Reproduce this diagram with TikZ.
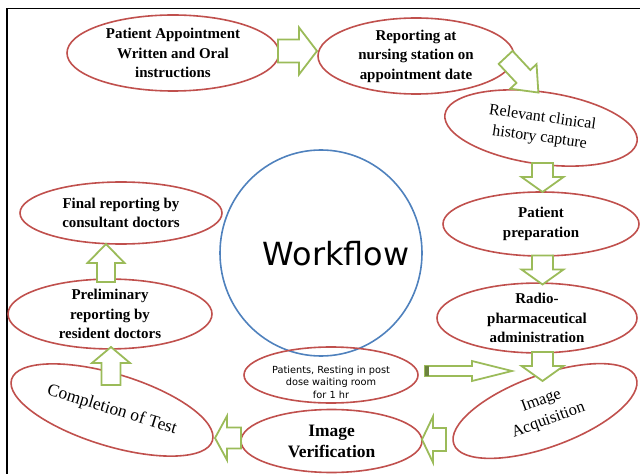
\documentclass[tikz,border=0pt]{standalone}
\usepackage{fontspec}
\setmainfont{Liberation Serif}[BoldFont={Liberation Serif Bold}]
\newfontfamily\handfont{DejaVu Sans}
\usetikzlibrary{shapes.geometric}
\definecolor{ered}{HTML}{C0504D}
\definecolor{cblue}{HTML}{4F81BD}
\definecolor{agreen}{HTML}{9BBB59}
\begin{document}
\begin{tikzpicture}[x=1bp,y=-1bp,
  stage/.style={ellipse, draw=ered, line width=1.6bp, inner sep=0pt, align=center,
    font=\bfseries\fontsize{15}{19.5}\selectfont},
  stagereg/.style={stage, font=\fontsize{16}{20}\selectfont},
  garrowline/.style={draw=agreen, line width=1.8bp, fill=white, line join=miter},
  pics/barrow/.style n args={4}{code={
    \path[garrowline] ({-#1/2},{-#2/2}) -- ({#1/2-#4},{-#2/2}) -- ({#1/2-#4},{-#3/2})
      -- ({#1/2},0) -- ({#1/2-#4},{#3/2}) -- ({#1/2-#4},{#2/2}) -- ({-#1/2},{#2/2}) -- cycle;
  }},
  frameline/.style={line width=1.3bp, draw=black}
]
\useasboundingbox (0,0) rectangle (640,474);
\draw[frameline] (7,474) -- (7,8.5) -- (640,8.5);

% stages
\node[stage, minimum width=212bp, minimum height=76bp] (e1) at (173,53)
  {Patient Appointment\\Written and Oral\\instructions};
\node[stage, minimum width=196bp, minimum height=76bp] (e2) at (416,56)
  {Reporting at\\nursing station on\\appointment date};
\node[stagereg, minimum width=194bp, minimum height=72bp, rotate=-8] (e3) at (541,128)
  {Relevant clinical\\history capture};
\node[stage, minimum width=196bp, minimum height=64bp] (e4) at (541,224)
  {Patient\\preparation};
\node[stage, minimum width=200bp, minimum height=68bp] (e5) at (537,318)
  {Radio-\\pharmaceutical\\administration};
\node[stagereg, font=\fontsize{16.5}{21}\selectfont, minimum width=194bp, minimum height=72bp, rotate=20] (e6) at (545,411)
  {Image\\Acquisition};
\node[stage, font=\bfseries\fontsize{17.5}{21}\selectfont, minimum width=181bp, minimum height=63bp] (e7) at (331.5,441)
  {Image\\Verification};
\node[stagereg, font=\fontsize{17.5}{21}\selectfont, minimum width=210bp, minimum height=72bp, rotate=-17] (e8) at (112,410)
  {Completion of Test};
\node[stage, minimum width=204bp, minimum height=66bp] (e9) at (110,314)
  {Preliminary\\reporting by\\resident doctors};
\node[stage, minimum width=202bp, minimum height=62bp] (e10) at (121,213)
  {Final reporting by\\consultant doctors};

% centre
\node[ellipse, draw=cblue, line width=1.6bp, minimum width=202bp, minimum height=206bp, inner sep=0pt] (wf) at (321,253) {};
\node[font=\handfont\fontsize{32}{36}\selectfont] (wft) at (336,254) {Workflow};

% waiting room
\node[ellipse, draw=ered, line width=1.6bp, minimum width=174bp, minimum height=56bp, inner sep=0pt] (wr) at (331,375) {};
\node[align=center, inner sep=0pt, font=\handfont\fontsize{9.8}{12.5}\selectfont] (wrt) at (331,382)
  {Patients, Resting in post\\dose waiting room\\for 1 hr};

% block arrows: {length}{shaft width}{head width}{head length}
\pic (a1) at (297.5,51) {barrow={39}{23}{47}{18}};
\pic[rotate=-47] (a2) at (522,75) {barrow={48}{19}{36}{22}};
\pic[rotate=-90] (a3) at (542.5,177.5) {barrow={29}{21}{42}{15}};
\pic[rotate=-90] (a4) at (542.5,270) {barrow={29}{21}{42}{15}};
\pic[rotate=-90] (a5) at (542.5,366.5) {barrow={29}{21}{42}{15}};
\pic (a6) at (468.5,371) {barrow={87}{10}{20}{40}};
\fill[agreen!70!black] (425,366) rectangle (428.5,376);
\pic[rotate=180] (a7) at (434,439.5) {barrow={24}{23}{46}{11}};
\pic[rotate=180] (a8) at (228,438) {barrow={26}{21}{44}{12}};
\pic[rotate=90] (a9) at (111,366) {barrow={38}{19}{38}{16}};
\pic[rotate=90] (a10) at (106,263) {barrow={38}{18}{37}{19}};
\end{tikzpicture}
\end{document}
